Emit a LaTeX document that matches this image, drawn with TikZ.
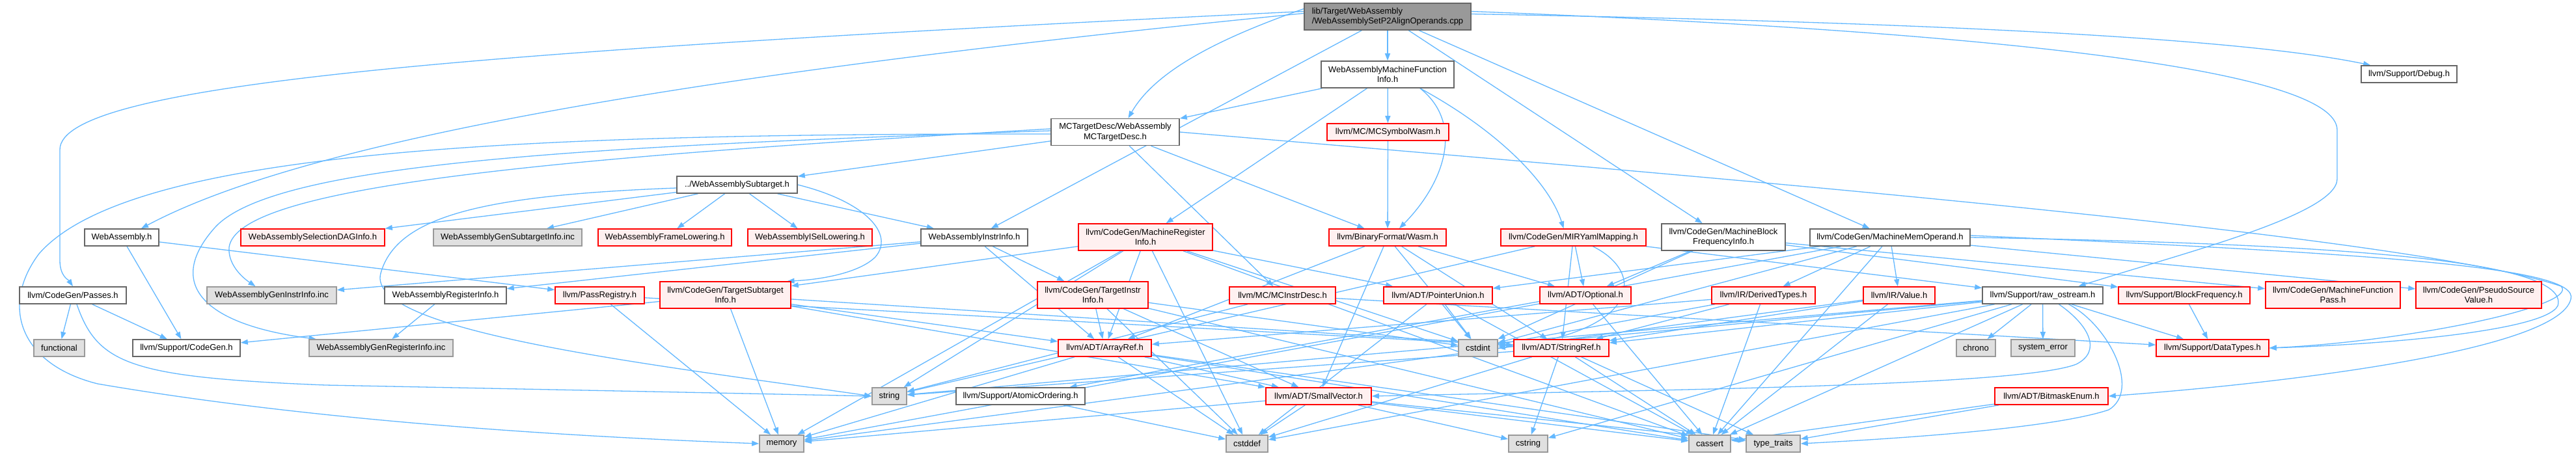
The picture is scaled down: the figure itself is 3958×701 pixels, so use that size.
\documentclass[tikz,border=0pt]{standalone}
\usepackage{fontspec}
\setmainfont{Liberation Sans}
\usetikzlibrary{arrows.meta}
\definecolor{edgec}{HTML}{63B8FF}
\definecolor{boxline}{HTML}{666666}
\definecolor{redfill}{HTML}{FFF0F0}
\definecolor{extfill}{HTML}{E0E0E0}
\definecolor{extline}{HTML}{999999}
\definecolor{topfill}{HTML}{999999}
\pgfdeclarelayer{bglayer}
\pgfdeclarelayer{edgelayer}
\pgfsetlayers{bglayer,edgelayer,main}
\begin{document}
\begin{tikzpicture}[x=1pt,y=-1pt,
  box/.style={draw=boxline, fill=white, line width=1.6pt, font=\fontsize{13}{15.5}\selectfont, inner sep=2pt, align=center, minimum height=26pt},
  rbox/.style={box, draw=red, fill=redfill},
  ext/.style={box, draw=extline, fill=extfill},
  e/.style={draw=edgec, line width=1.3pt, -{Triangle[length=11pt,width=8pt]}}]
\begin{pgfonlayer}{bglayer}
\fill[white] (0,0) rectangle (3958,701);
\end{pgfonlayer}
\useasboundingbox (0,0) rectangle (3958,701);
% row 0
\node[box, fill=topfill, align=left, minimum width=256pt, minimum height=41pt] (top) at (2132,25.5) {lib/Target/WebAssembly\\/WebAssemblySetP2AlignOperands.cpp};
% row 1
\node[box, minimum width=204pt, minimum height=41pt] (wamfi) at (2132,114.5) {WebAssemblyMachineFunction\\Info.h};
\node[box, minimum width=147pt] (debug) at (3701.5,114) {llvm/Support/Debug.h};
\node[box, minimum width=197pt, minimum height=41pt] (mctd) at (1713.5,203) {MCTargetDesc/WebAssembly\\MCTargetDesc.h};
\node[rbox, minimum width=187pt] (mcsym) at (2132.5,203) {llvm/MC/MCSymbolWasm.h};
\node[box, minimum width=185pt] (subt) at (1132.5,284) {../WebAssemblySubtarget.h};
% row y=365
\node[box, minimum width=114pt] (wah) at (187,365) {WebAssembly.h};
\node[rbox, minimum width=221pt] (seldag) at (480.5,365) {WebAssemblySelectionDAGInfo.h};
\node[ext, minimum width=228pt] (gensub) at (780,365) {WebAssemblyGenSubtargetInfo.inc};
\node[rbox, minimum width=205pt] (framel) at (1021.5,365) {WebAssemblyFrameLowering.h};
\node[rbox, minimum width=191pt] (isel) at (1244.5,365) {WebAssemblyISelLowering.h};
\node[box, minimum width=164pt] (waii) at (1497,365) {WebAssemblyInstrInfo.h};
\node[rbox, minimum width=206pt, minimum height=41pt] (mri) at (1760,364.5) {llvm/CodeGen/MachineRegister\\Info.h};
\node[rbox, minimum width=180pt] (wasm) at (2132,365) {llvm/BinaryFormat/Wasm.h};
\node[rbox, minimum width=223pt] (miry) at (2417.5,365) {llvm/CodeGen/MIRYamlMapping.h};
\node[box, minimum width=190pt, minimum height=41pt] (mbfi) at (2648,364.5) {llvm/CodeGen/MachineBlock\\FrequencyInfo.h};
\node[box, minimum width=246pt] (mmo) at (2904,365) {llvm/CodeGen/MachineMemOperand.h};
% row y=454
\node[box, minimum width=164pt] (passes) at (112,454) {llvm/CodeGen/Passes.h};
\node[ext, minimum width=199pt] (geninstr) at (417.5,454) {WebAssemblyGenInstrInfo.inc};
\node[box, minimum width=187pt] (wareg) at (684.5,454) {WebAssemblyRegisterInfo.h};
\node[rbox, minimum width=137pt] (passreg) at (921.5,454) {llvm/PassRegistry.h};
\node[rbox, minimum width=201pt, minimum height=41pt] (tsi) at (1114.5,453.5) {llvm/CodeGen/TargetSubtarget\\Info.h};
\node[rbox, minimum width=170pt, minimum height=41pt] (tii) at (1679,453.5) {llvm/CodeGen/TargetInstr\\Info.h};
\node[rbox, minimum width=163pt] (mcinstr) at (1970.5,454) {llvm/MC/MCInstrDesc.h};
\node[rbox, minimum width=167pt] (punion) at (2209.5,454) {llvm/ADT/PointerUnion.h};
\node[rbox, minimum width=140pt] (optional) at (2436,454) {llvm/ADT/Optional.h};
\node[rbox, minimum width=159pt] (dertypes) at (2709.5,454) {llvm/IR/DerivedTypes.h};
\node[rbox, minimum width=110pt] (value) at (2918,454) {llvm/IR/Value.h};
\node[box, minimum width=185pt] (raw) at (3138.5,454) {llvm/Support/raw\_ostream.h};
\node[rbox, minimum width=202pt] (blockf) at (3356,454) {llvm/Support/BlockFrequency.h};
\node[rbox, minimum width=207pt, minimum height=41pt] (mfpass) at (3584.5,453.5) {llvm/CodeGen/MachineFunction\\Pass.h};
\node[rbox, minimum width=193pt, minimum height=41pt] (psv) at (3808.5,453.5) {llvm/CodeGen/PseudoSource\\Value.h};
% row y=535
\node[ext, minimum width=78pt] (functional) at (91,535) {functional};
\node[box, minimum width=165pt] (codegen) at (286.5,535) {llvm/Support/CodeGen.h};
\node[ext, minimum width=221pt] (genreg) at (585.5,535) {WebAssemblyGenRegisterInfo.inc};
\node[rbox, minimum width=143pt] (arrayref) at (1697.5,535) {llvm/ADT/ArrayRef.h};
\node[ext, minimum width=60pt] (cstdint) at (2271,535) {cstdint};
\node[rbox, minimum width=146pt] (stringref) at (2399,535) {llvm/ADT/StringRef.h};
\node[ext, minimum width=60pt] (chrono) at (3036,535) {chrono};
\node[ext, minimum width=98pt] (syserr) at (3139,535) {system\_error};
\node[rbox, minimum width=173pt] (datatypes) at (3399.5,535) {llvm/Support/DataTypes.h};
% row y=609
\node[ext, minimum width=53pt] (string) at (1366.5,609) {string};
\node[box, minimum width=198pt] (atomic) at (1568,609) {llvm/Support/AtomicOrdering.h};
\node[rbox, minimum width=162pt] (smallvec) at (2026,609) {llvm/ADT/SmallVector.h};
\node[rbox, minimum width=174pt] (bitmask) at (3152,609) {llvm/ADT/BitmaskEnum.h};
% row y=682
\node[ext, minimum width=68pt] (memory) at (1201,682) {memory};
\node[ext, minimum width=64pt] (cstddef) at (1916,682) {cstddef};
\node[ext, minimum width=60pt] (cstring) at (2348,682) {cstring};
\node[ext, minimum width=64pt] (cassert) at (2627,682) {cassert};
\node[ext, minimum width=83pt] (typetraits) at (2724.5,682) {type\_traits};

\begin{pgfonlayer}{edgelayer}
\foreach \a/\b in {top/waii, top/wamfi, top/mbfi, top/mmo,
  wamfi/mctd, wamfi/mcsym, wamfi/mri, mcsym/wasm,
  mctd/subt, mctd/mcinstr, mctd/wasm,
  subt/seldag, subt/gensub, subt/framel, subt/isel, subt/waii,
  wah/codegen, wah/passreg, passes/functional, passes/codegen,
  passreg/stringref, passreg/memory, wareg/genreg,
  waii/geninstr, waii/wareg, waii/tii, waii/arrayref,
  mri/arrayref, mri/punion, mri/tsi, mri/memory, mri/string, mri/cassert, mri/cstddef, mri/cstdint,
  tsi/arrayref, tsi/smallvec, tsi/stringref, tsi/codegen, tsi/memory,
  tii/arrayref, tii/smallvec, tii/cassert, tii/cstddef, tii/cstdint,
  mcinstr/datatypes, mcinstr/string,
  wasm/arrayref, wasm/smallvec, wasm/stringref, wasm/optional, wasm/cstdint,
  miry/optional, miry/stringref, miry/string, miry/raw,
  mbfi/optional, mbfi/cstdint, mbfi/blockf, mbfi/mfpass,
  mmo/punion, mmo/psv, mmo/dertypes, mmo/value, mmo/atomic, mmo/cassert, mmo/cstdint,
  punion/cstdint, punion/cassert, punion/cstddef,
  optional/cassert, optional/memory,
  dertypes/arrayref, dertypes/stringref, dertypes/cassert, dertypes/cstdint,
  value/stringref, value/cassert, value/memory,
  raw/stringref, raw/datatypes, raw/cassert, raw/chrono, raw/cstddef, raw/cstdint, raw/cstring, raw/string, raw/syserr,
  blockf/datatypes,
  arrayref/smallvec, arrayref/cassert, arrayref/cstddef, arrayref/memory, arrayref/typetraits,
  smallvec/cassert, smallvec/cstddef, smallvec/cstring, smallvec/memory, smallvec/typetraits,
  stringref/cassert, stringref/cstddef, stringref/cstring, stringref/string, stringref/typetraits,
  atomic/cstddef, bitmask/cassert, bitmask/typetraits}
  \draw[e] (\a) -- (\b);
% curved connectors
\draw[e] ([yshift=8pt]top.west) .. controls (700,80) and (92,130) .. (92,230) -- (92,400) .. controls (92,425) and (105,430) .. (passes.north);
\draw[e] ([yshift=5pt]top.west) .. controls (1200,100) and (500,200) .. ([xshift=30pt]wah.north);
\draw[e] ([yshift=12pt]top.west) .. controls (1900,50) and (1780,100) .. ([xshift=20pt]mctd.north);
\draw[e] ([yshift=4pt]top.east) .. controls (3000,35) and (3450,60) .. ([xshift=15pt]debug.north west);
\draw[e] ([yshift=8pt]top.east) .. controls (3100,50) and (3591,110) .. (3591,200) -- (3591,275) .. controls (3591,330) and (3350,390) .. ([xshift=55pt]raw.north);
\draw[e] ([xshift=50pt]wamfi.south) .. controls (2250,190) and (2220,280) .. ([xshift=18pt]wasm.north);
\draw[e] ([xshift=50pt]wamfi.south) .. controls (2300,200) and (2380,280) .. ([xshift=-15pt]miry.north);
\draw[e] ([yshift=5pt]mctd.west) .. controls (800,245) and (365,290) .. (352,380) .. controls (350,405) and (370,425) .. ([xshift=-25pt]geninstr.north);
\draw[e] ([yshift=2pt]mctd.west) .. controls (900,225) and (420,250) .. (330,350) .. controls (250,440) and (320,500) .. ([xshift=-100pt]genreg.north);
\draw[e] ([yshift=-3pt]mctd.west) .. controls (800,205) and (200,230) .. (60,390) .. controls (0,470) and (30,560) .. (150,590) .. controls (500,650) and (900,672) .. (memory.west);
\draw[e] (mctd.east) .. controls (2600,270) and (3700,360) .. (3935,440) .. controls (3965,470) and (3700,525) .. (datatypes.east);
\draw[e] (subt.east) .. controls (1330,310) and (1375,360) .. (1345,395) .. controls (1320,420) and (1260,430) .. ([xshift=95pt]tsi.north);
\draw[e] ([yshift=-5pt]subt.west) .. controls (750,300) and (610,330) .. (585,420) .. controls (560,510) and (1000,560) .. (string.west);
\draw[e] ([xshift=6pt]passes.south) .. controls (150,560) and (200,580) .. (500,592) .. controls (900,600) and (1200,606) .. (string.west);
\draw[e] (mmo.east) .. controls (3600,375) and (3950,400) .. (3930,470) .. controls (3910,510) and (3650,530) .. (datatypes.east);
\draw[e] ([yshift=3pt]mmo.east) .. controls (3650,390) and (3965,410) .. (3950,460) .. controls (3930,540) and (3500,590) .. (bitmask.east);
\draw[e] ([xshift=40pt]raw.south) .. controls (3240,500) and (3290,600) .. (3240,630) .. controls (3150,660) and (2900,675) .. (typetraits.east);
\draw[e] ([xshift=25pt]raw.south) .. controls (3210,500) and (3230,540) .. (3190,560) .. controls (3100,595) and (2500,600) .. (smallvec.east);
\draw[e] ([xshift=30pt]miry.south) .. controls (2530,420) and (2520,510) .. (cstdint.east);
\end{pgfonlayer}
\end{tikzpicture}
\end{document}
